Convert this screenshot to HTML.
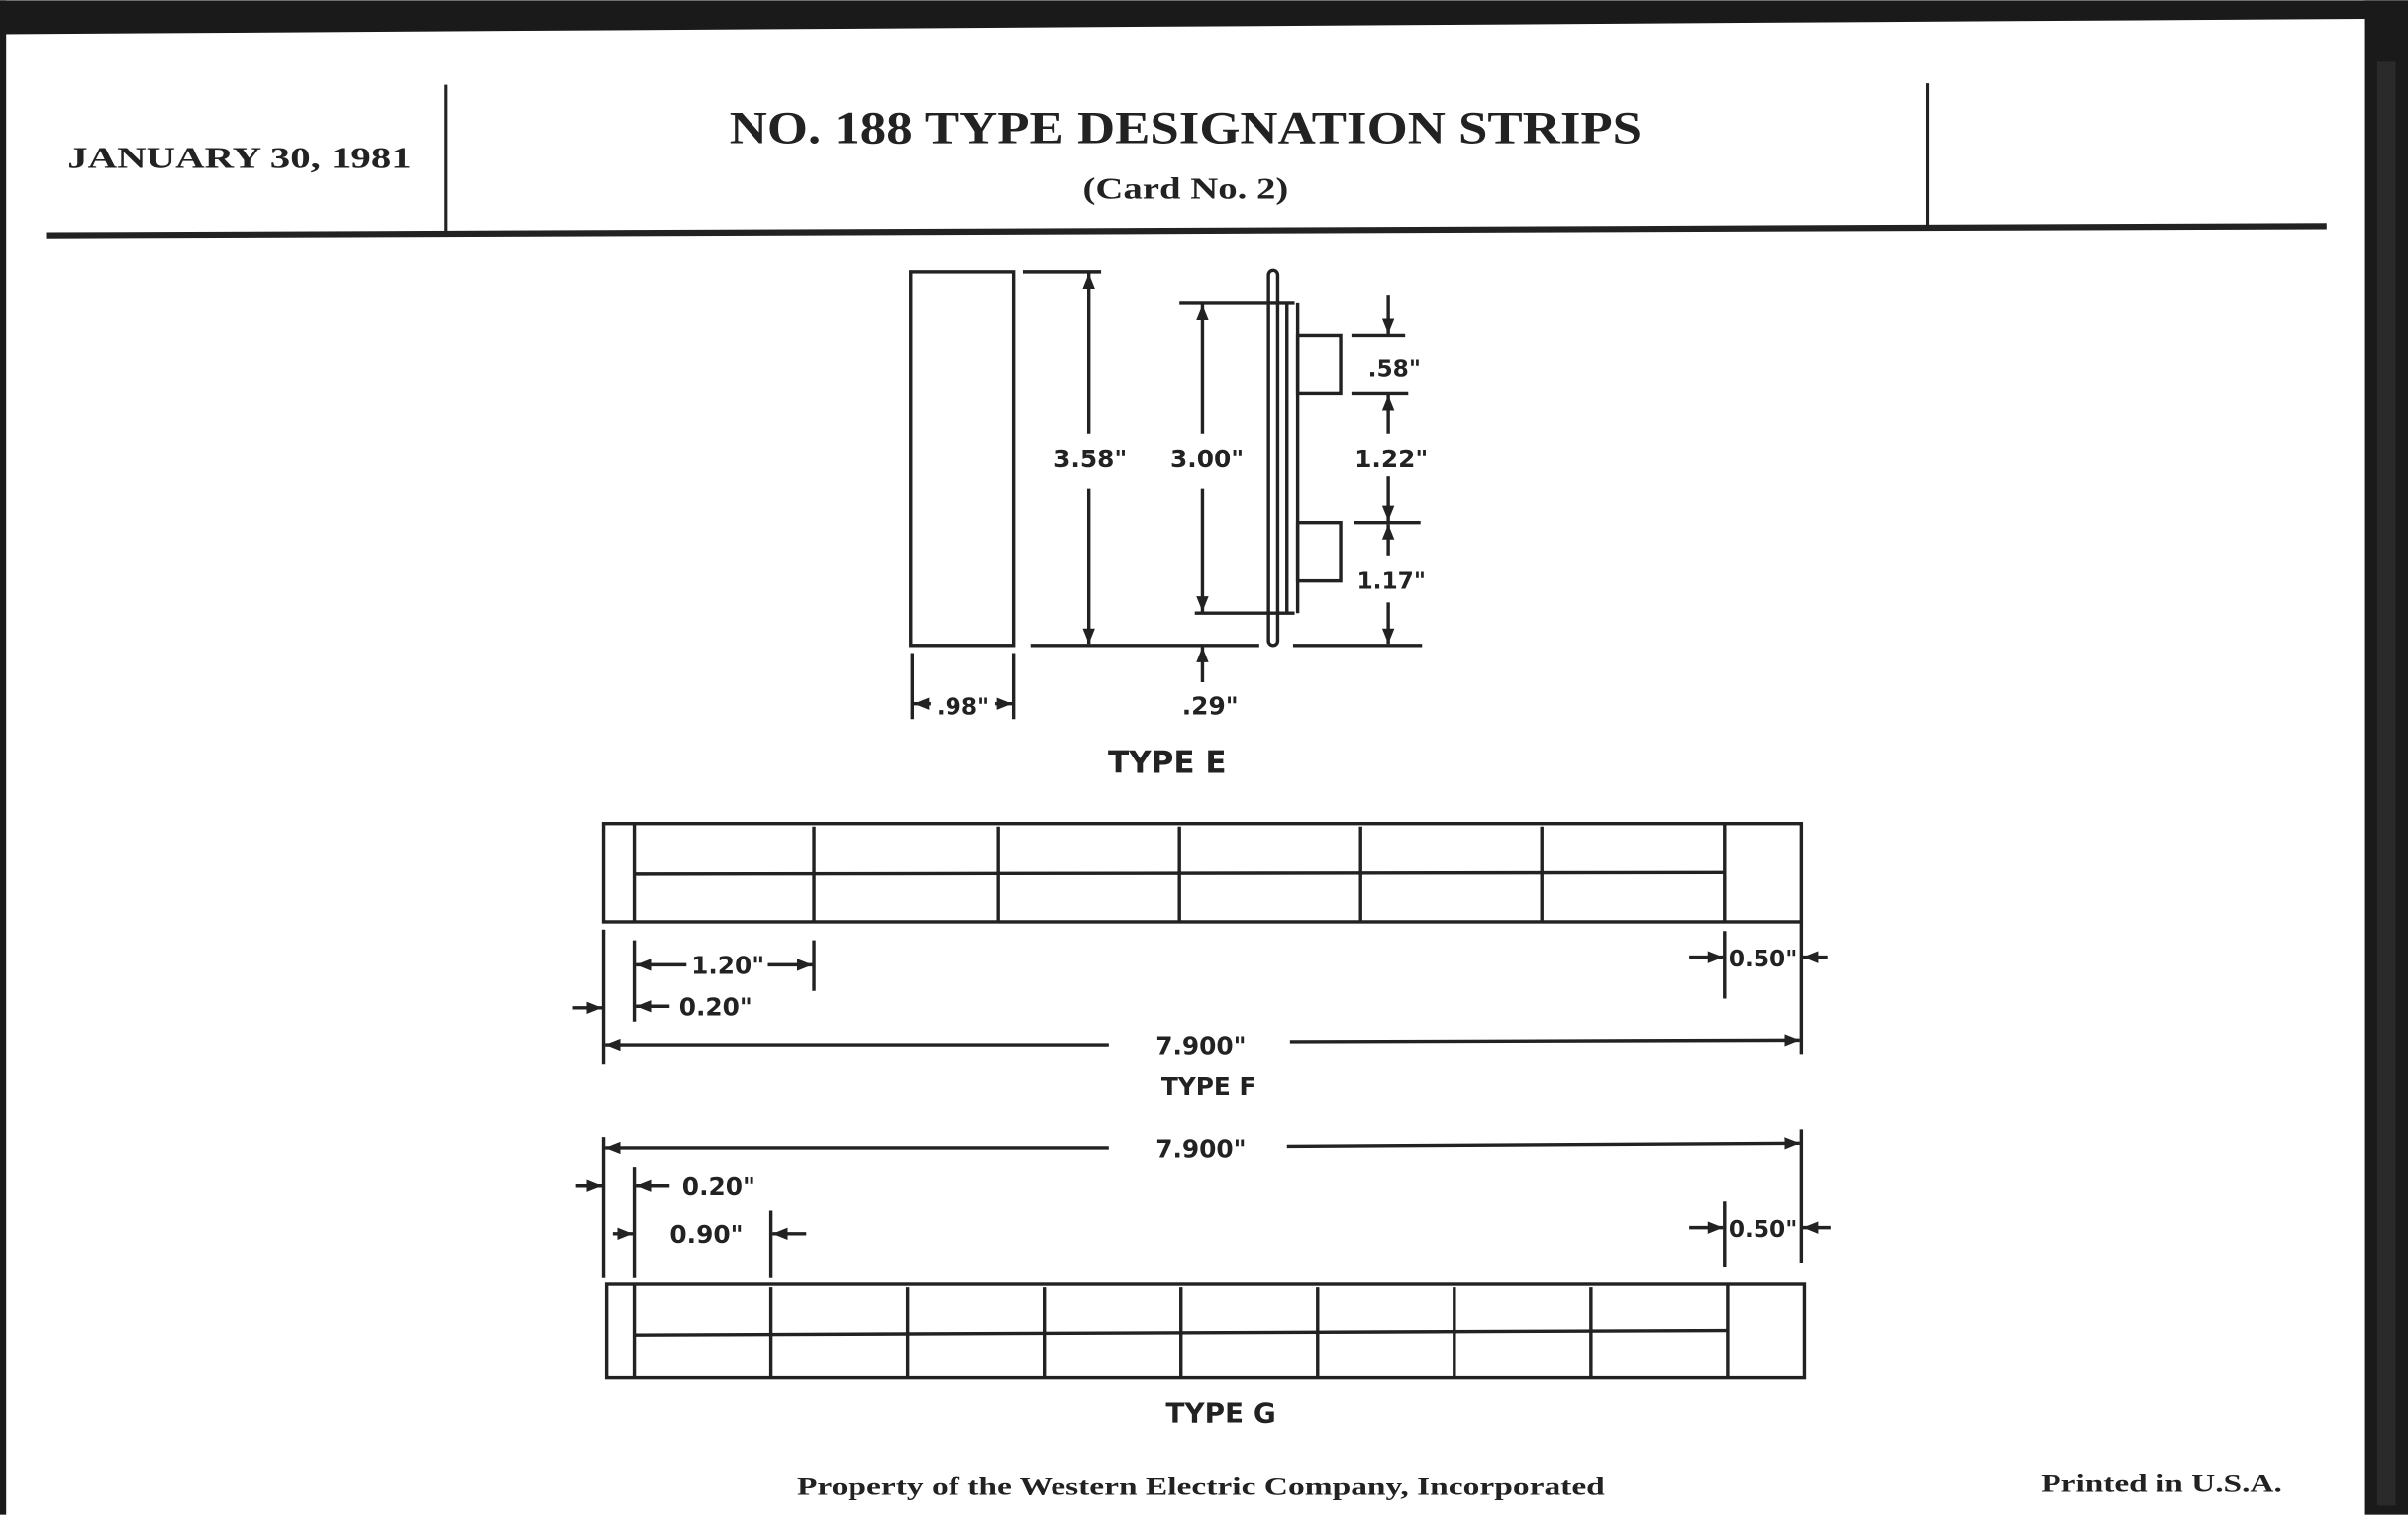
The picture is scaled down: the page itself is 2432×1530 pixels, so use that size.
<!DOCTYPE html>
<html><head><meta charset="utf-8"><style>
html,body{margin:0;padding:0;background:#fff}
svg{display:block}
.s{font-family:"Liberation Serif",serif;font-weight:bold;fill:#222}
.d{font-family:"DejaVu Sans","Liberation Sans",sans-serif;font-weight:bold;fill:#222}
</style></head><body>
<svg width="2432" height="1530" viewBox="0 0 1568 986" xmlns="http://www.w3.org/2000/svg">
<defs>
<marker id="a" viewBox="0 0 10 8" refX="10" refY="4" markerWidth="10" markerHeight="8" markerUnits="userSpaceOnUse" orient="auto"><path d="M0,0 L10,4 L0,8 Z" fill="#222"/></marker>
</defs>
<rect width="1568" height="986" fill="#fff"/>
<polygon points="0,0 1568,0 1568,12 1540,12 0,22" fill="#1a1a1a"/>
<rect x="1540" y="0" width="28" height="986" fill="#1a1a1a"/>
<rect x="1548" y="40" width="12" height="940" fill="#2a2a2a"/>
<rect x="0" y="0" width="4" height="986" fill="#1a1a1a"/>
<g stroke="#222" fill="none">
<line x1="290" y1="55" x2="290" y2="150" stroke-width="2"/>
<line x1="1255" y1="54" x2="1255" y2="147" stroke-width="2"/>
<line x1="30" y1="153" x2="1515" y2="147" stroke-width="4"/>
<g stroke-width="2.2">
<rect x="593" y="177" width="67" height="243"/>
<line x1="666" y1="177" x2="717" y2="177"/>
<line x1="671" y1="420" x2="820" y2="420"/>
<line x1="709" y1="282" x2="709" y2="178" marker-end="url(#a)"/>
<line x1="709" y1="318" x2="709" y2="419" marker-end="url(#a)"/>
<line x1="768" y1="197" x2="843" y2="197"/>
<line x1="778" y1="399" x2="843" y2="399"/>
<line x1="783" y1="282" x2="783" y2="198" marker-end="url(#a)"/>
<line x1="783" y1="318" x2="783" y2="398" marker-end="url(#a)"/>
<rect x="826" y="176" width="6" height="244" rx="3"/>
<line x1="838" y1="197" x2="838" y2="399"/>
<line x1="845" y1="197" x2="845" y2="399"/>
<rect x="845" y="218" width="28" height="38"/>
<rect x="845" y="340" width="28" height="38"/>
<line x1="880" y1="218" x2="915" y2="218"/>
<line x1="880" y1="256" x2="917" y2="256"/>
<line x1="882" y1="340" x2="925" y2="340"/>
<line x1="842" y1="420" x2="926" y2="420"/>
<line x1="904" y1="192" x2="904" y2="217" marker-end="url(#a)"/>
<line x1="904" y1="282" x2="904" y2="257" marker-end="url(#a)"/>
<line x1="904" y1="310" x2="904" y2="339" marker-end="url(#a)"/>
<line x1="904" y1="362" x2="904" y2="341" marker-end="url(#a)"/>
<line x1="904" y1="392" x2="904" y2="419" marker-end="url(#a)"/>
<line x1="783" y1="444" x2="783" y2="421" marker-end="url(#a)"/>
<line x1="594" y1="425" x2="594" y2="468"/>
<line x1="660" y1="425" x2="660" y2="468"/>
<line x1="606" y1="458" x2="595" y2="458" marker-end="url(#a)"/>
<line x1="648" y1="458" x2="659" y2="458" marker-end="url(#a)"/>
<rect x="393" y="536" width="780" height="64"/>
<line x1="413" y1="536" x2="413" y2="600"/>
<line x1="1123" y1="536" x2="1123" y2="600"/>
<line x1="530" y1="538" x2="530" y2="600"/><line x1="650" y1="538" x2="650" y2="600"/><line x1="768" y1="538" x2="768" y2="600"/><line x1="886" y1="538" x2="886" y2="600"/><line x1="1004" y1="538" x2="1004" y2="600"/>
<line x1="413" y1="569" x2="1123" y2="568"/>
<line x1="393" y1="605" x2="393" y2="693"/>
<line x1="413" y1="612" x2="413" y2="665"/>
<line x1="530" y1="612" x2="530" y2="645"/>
<line x1="447" y1="628" x2="414" y2="628" marker-end="url(#a)"/>
<line x1="500" y1="628" x2="529" y2="628" marker-end="url(#a)"/>
<line x1="373" y1="656" x2="392" y2="656" marker-end="url(#a)"/>
<line x1="436" y1="655" x2="414" y2="655" marker-end="url(#a)"/>
<line x1="722" y1="680" x2="394" y2="680" marker-end="url(#a)"/>
<line x1="840" y1="678" x2="1172" y2="677" marker-end="url(#a)"/>
<line x1="1123" y1="606" x2="1123" y2="650"/>
<line x1="1173" y1="600" x2="1173" y2="686"/>
<line x1="1100" y1="623" x2="1122" y2="623" marker-end="url(#a)"/>
<line x1="1190" y1="623" x2="1174" y2="623" marker-end="url(#a)"/>
<line x1="393" y1="740" x2="393" y2="832"/>
<line x1="1173" y1="735" x2="1173" y2="822"/>
<line x1="722" y1="747" x2="394" y2="747" marker-end="url(#a)"/>
<line x1="838" y1="746" x2="1172" y2="744" marker-end="url(#a)"/>
<line x1="413" y1="760" x2="413" y2="832"/>
<line x1="502" y1="788" x2="502" y2="832"/>
<line x1="375" y1="772" x2="392" y2="772" marker-end="url(#a)"/>
<line x1="436" y1="772" x2="414" y2="772" marker-end="url(#a)"/>
<line x1="399" y1="803" x2="412" y2="803" marker-end="url(#a)"/>
<line x1="525" y1="803" x2="503" y2="803" marker-end="url(#a)"/>
<line x1="1123" y1="782" x2="1123" y2="825"/>
<line x1="1100" y1="799" x2="1122" y2="799" marker-end="url(#a)"/>
<line x1="1192" y1="799" x2="1174" y2="799" marker-end="url(#a)"/>
<rect x="395" y="836" width="780" height="61"/>
<line x1="413" y1="836" x2="413" y2="897"/>
<line x1="1125" y1="836" x2="1125" y2="897"/>
<line x1="502" y1="838" x2="502" y2="897"/><line x1="591" y1="838" x2="591" y2="897"/><line x1="680" y1="838" x2="680" y2="897"/><line x1="769" y1="838" x2="769" y2="897"/><line x1="858" y1="838" x2="858" y2="897"/><line x1="947" y1="838" x2="947" y2="897"/><line x1="1036" y1="838" x2="1036" y2="897"/>
<line x1="413" y1="869" x2="1125" y2="866"/>
</g>
</g>
<text class="s" x="44" y="109" font-size="20" textLength="224" lengthAdjust="spacingAndGlyphs">JANUARY 30, 1981</text>
<text class="s" x="772" y="93" font-size="30" text-anchor="middle" textLength="594" lengthAdjust="spacingAndGlyphs">NO. 188 TYPE DESIGNATION STRIPS</text>
<text class="s" x="772" y="129" font-size="20" text-anchor="middle" textLength="134" lengthAdjust="spacingAndGlyphs">(Card No. 2)</text>
<g class="d" font-size="16">
<text x="710" y="304" text-anchor="middle">3.58"</text>
<text x="786" y="304" text-anchor="middle">3.00"</text>
<text x="908" y="245" text-anchor="middle" font-size="15">.58"</text>
<text x="906" y="304" text-anchor="middle">1.22"</text>
<text x="906" y="383" text-anchor="middle" font-size="15">1.17"</text>
<text x="627" y="465" text-anchor="middle" font-size="15">.98"</text>
<text x="788" y="465" text-anchor="middle">.29"</text>
<text x="760" y="503" text-anchor="middle" font-size="20">TYPE E</text>
<text x="474" y="634" text-anchor="middle">1.20"</text>
<text x="466" y="661" text-anchor="middle">0.20"</text>
<text x="1148" y="629" text-anchor="middle" font-size="15">0.50"</text>
<text x="782" y="686" text-anchor="middle">7.900"</text>
<text x="787" y="713" text-anchor="middle">TYPE F</text>
<text x="782" y="753" text-anchor="middle">7.900"</text>
<text x="468" y="778" text-anchor="middle">0.20"</text>
<text x="460" y="809" text-anchor="middle">0.90"</text>
<text x="1148" y="805" text-anchor="middle" font-size="15">0.50"</text>
<text x="795" y="926" text-anchor="middle" font-size="18">TYPE G</text>
</g>
<text class="s" x="782" y="973" font-size="16" text-anchor="middle" textLength="526" lengthAdjust="spacingAndGlyphs">Property of the Western Electric Company, Incorporated</text>
<text class="s" x="1329" y="971" font-size="16" textLength="157" lengthAdjust="spacingAndGlyphs">Printed in U.S.A.</text>
</svg>
</body></html>
